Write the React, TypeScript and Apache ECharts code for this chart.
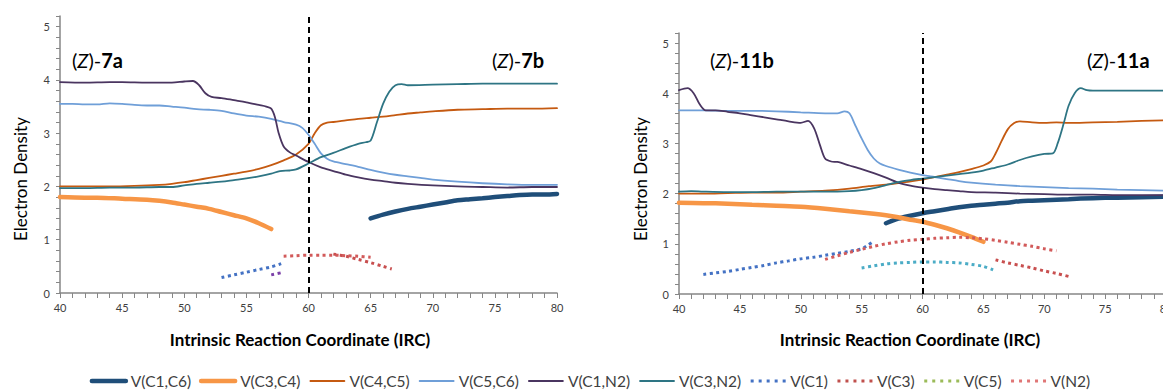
import React, { useEffect, useRef } from "react";
import * as echarts from "echarts";

const FONT = 'Lato, "Open Sans", sans-serif';

const seriesNames = ["V(C1,C6)", "V(C3,C4)", "V(C4,C5)", "V(C5,C6)", "V(C1,N2)", "V(C3,N2)", "V(C1)", "V(C3)", "V(C5)", "V(N2)"];
const xTicks = [40, 45, 50, 55, 60, 65, 70, 75, 80];
const tsX = 60;

// Left panel: (Z)-7a -> (Z)-7b
const L_C1C6 = [[65,1.40],[66,1.47],[67,1.53],[68,1.58],[69,1.62],[70,1.66],[71,1.70],[72,1.74],[73,1.76],[74,1.78],[75,1.80],[76,1.82],[77,1.84],[78,1.85],[79,1.85],[80,1.86]];
const L_C3C4 = [[40,1.80],[42,1.79],[43,1.79],[45,1.77],[47,1.75],[48,1.73],[49,1.70],[50,1.66],[51,1.62],[52,1.58],[53,1.52],[54,1.46],[55,1.40],[56,1.31],[57,1.20]];
const L_C4C5 = [[40,2.00],[42,2.00],[44,2.00],[46,2.01],[48,2.03],[49,2.05],[50,2.08],[51,2.12],[52,2.16],[53,2.20],[54,2.24],[55,2.28],[56,2.33],[57,2.40],[58,2.49],[59,2.60],[60,2.80],[60.5,3.00],[61,3.15],[61.5,3.20],[62,3.21],[63,3.24],[64,3.27],[65,3.29],[66,3.31],[67,3.34],[68,3.37],[69,3.39],[70,3.41],[72,3.44],[74,3.45],[76,3.46],[78,3.46],[80,3.47]];
const L_C5C6 = [[40,3.55],[41,3.55],[42,3.54],[43,3.54],[44,3.56],[45,3.55],[46,3.53],[47,3.52],[48,3.52],[49,3.50],[50,3.48],[51,3.45],[52,3.44],[53,3.42],[54,3.37],[55,3.33],[56,3.31],[57,3.27],[58,3.21],[59,3.16],[59.5,3.10],[60,2.97],[60.5,2.80],[61,2.62],[61.5,2.52],[62,2.47],[63,2.42],[64,2.37],[65,2.31],[66,2.26],[67,2.22],[68,2.19],[69,2.16],[70,2.13],[72,2.09],[74,2.06],[76,2.04],[78,2.03],[80,2.03]];
const L_C1N2 = [[40,3.96],[42,3.95],[44,3.96],[45,3.96],[47,3.95],[49,3.95],[50,3.97],[50.7,3.98],[51.2,3.90],[51.7,3.75],[52.2,3.68],[53,3.66],[54,3.62],[55,3.58],[56,3.53],[56.6,3.50],[57,3.46],[57.3,3.30],[57.6,3.00],[58,2.75],[58.5,2.64],[59,2.58],[60,2.46],[61,2.36],[62,2.29],[63,2.22],[64,2.17],[65,2.13],[66,2.10],[67,2.07],[68,2.05],[70,2.02],[72,2.00],[74,1.99],[76,1.98],[78,1.99],[80,1.99]];
const L_C3N2 = [[40,1.97],[42,1.97],[44,1.98],[46,1.98],[48,1.99],[49,1.99],[50,2.02],[51,2.05],[52,2.07],[53,2.09],[54,2.12],[55,2.15],[56,2.19],[57,2.24],[57.7,2.29],[58.5,2.30],[59,2.32],[60,2.43],[61,2.55],[62,2.63],[63,2.72],[64,2.80],[64.6,2.83],[65,2.86],[65.5,3.20],[66,3.55],[66.5,3.78],[67,3.90],[67.5,3.92],[68,3.90],[70,3.91],[72,3.92],[74,3.93],[76,3.93],[78,3.93],[80,3.93]];
const L_C1 = [[53,0.29],[54,0.34],[55,0.39],[56,0.44],[57,0.49],[57.8,0.55]];
const L_C5 = [[57,0.34],[58,0.39]];
const L_N2 = [[58,0.69],[59,0.70],[60,0.71],[61,0.71],[62,0.71],[63,0.70],[64,0.69],[65,0.67]];
const L_C3 = [[62,0.73],[63,0.69],[64,0.63],[65,0.57],[66,0.50],[66.7,0.45]];

// Right panel: (Z)-11b -> (Z)-11a
const R_C1C6 = [[57,1.41],[58,1.50],[59,1.56],[60,1.61],[61,1.65],[62,1.69],[63,1.73],[64,1.76],[65,1.78],[66,1.80],[67,1.82],[68,1.85],[69,1.86],[70,1.87],[72,1.89],[74,1.91],[76,1.92],[78,1.93],[80,1.94]];
const R_C3C4 = [[40,1.82],[42,1.81],[44,1.80],[46,1.78],[48,1.76],[50,1.74],[52,1.70],[54,1.65],[56,1.60],[57,1.57],[58,1.53],[59,1.48],[60,1.44],[61,1.38],[62,1.31],[63,1.23],[64,1.14],[65,1.04]];
const R_C4C5 = [[40,2.00],[42,2.00],[44,2.01],[46,2.02],[48,2.02],[50,2.04],[52,2.06],[54,2.10],[55.6,2.15],[57,2.18],[58,2.21],[60,2.28],[61,2.33],[62,2.38],[63,2.43],[64,2.49],[65,2.56],[65.6,2.64],[66,2.80],[66.5,3.05],[67,3.28],[67.5,3.40],[68,3.44],[69,3.42],[70,3.41],[71,3.42],[72,3.41],[74,3.42],[76,3.43],[78,3.45],[80,3.46]];
const R_C5C6 = [[40,3.66],[42,3.66],[44,3.65],[46,3.65],[48,3.64],[50,3.62],[52,3.60],[53,3.60],[53.6,3.64],[54,3.60],[54.5,3.35],[55,3.10],[55.5,2.87],[56,2.70],[56.5,2.60],[57,2.55],[58,2.48],[59,2.42],[60,2.37],[61,2.33],[62,2.29],[63,2.25],[64,2.22],[66,2.18],[68,2.15],[70,2.13],[72,2.11],[74,2.10],[76,2.08],[78,2.07],[80,2.06]];
const R_C1N2 = [[40,4.06],[40.7,4.10],[41.2,4.00],[41.7,3.78],[42.2,3.66],[43,3.66],[44,3.63],[45,3.60],[46,3.56],[47,3.52],[48,3.48],[49,3.44],[50,3.41],[50.6,3.45],[51.1,3.30],[51.6,2.95],[52,2.70],[52.5,2.64],[53,2.63],[54,2.56],[55,2.49],[56,2.41],[57,2.32],[58,2.22],[59,2.16],[60,2.12],[61,2.09],[62,2.07],[63,2.05],[64,2.03],[66,2.02],[68,2.00],[70,1.99],[72,1.98],[74,1.98],[76,1.97],[78,1.97],[80,1.97]];
const R_C3N2 = [[40,2.04],[41,2.05],[42,2.04],[44,2.03],[46,2.03],[48,2.04],[50,2.04],[52,2.04],[54,2.05],[55,2.07],[56,2.11],[57,2.17],[58,2.23],[59,2.27],[60,2.30],[61,2.33],[62,2.36],[63,2.39],[64,2.42],[65,2.46],[66,2.52],[67,2.58],[68,2.67],[69,2.74],[70,2.79],[70.7,2.80],[71.1,3.00],[71.6,3.40],[72,3.75],[72.5,4.00],[73,4.10],[73.5,4.06],[74,4.05],[76,4.05],[78,4.05],[80,4.05]];
const R_C1 = [[42,0.39],[43,0.42],[44,0.45],[45,0.49],[46,0.53],[47,0.57],[48,0.62],[49,0.66],[50,0.70],[51,0.73],[52,0.77],[53,0.81],[54,0.85],[55,0.90],[55.5,0.97],[56,1.05]];
const R_N2 = [[52,0.69],[53,0.76],[54,0.83],[55,0.89],[56,0.95],[57,1.00],[58,1.04],[59,1.07],[60,1.09],[61,1.11],[62,1.12],[63,1.13],[64,1.12],[65,1.10],[66,1.07],[67,1.03],[68,0.99],[69,0.95],[70,0.90],[71,0.86]];
const R_C5 = [[55,0.52],[56,0.56],[57,0.60],[58,0.62],[59,0.63],[60,0.64],[61,0.64],[62,0.63],[63,0.62],[64,0.59],[65,0.55],[65.8,0.48]];
const R_C3 = [[66,0.68],[67,0.62],[68,0.57],[69,0.52],[70,0.46],[71,0.41],[72,0.35]];

const COLORS: Record<string, string> = {
  "V(C1,C6)": "#1f4e79",
  "V(C3,C4)": "#f79646",
  "V(C4,C5)": "#c55a11",
  "V(C5,C6)": "#6f9fd8",
  "V(C1,N2)": "#4a3560",
  "V(C3,N2)": "#2e7584",
  "V(C1)": "#4472c4",
  "V(C3)": "#c0504d",
  "V(C5)": "#9bbb59",
  "V(N2)": "#e07676",
};
const WIDTHS: Record<string, number> = {
  "V(C1,C6)": 4.5, "V(C3,C4)": 4.5, "V(C4,C5)": 1.8, "V(C5,C6)": 1.8, "V(C1,N2)": 1.8, "V(C3,N2)": 1.8,
};
const DOTTED = ["V(C1)", "V(C3)", "V(C5)", "V(N2)"];

function mk(name: string, data: number[][], g: number, color?: string) {
  const dotted = DOTTED.includes(name);
  const c = color || COLORS[name];
  return {
    type: "line",
    name,
    xAxisIndex: g,
    yAxisIndex: g,
    data,
    symbol: "none",
    smooth: 0.3,
    color: c,
    lineStyle: dotted
      ? { width: 3, type: [3, 3.5], color: c }
      : { width: WIDTHS[name], color: c, cap: "round" },
    z: dotted ? 3 : 2,
  };
}

function axisX(g: number) {
  return {
    type: "value",
    gridIndex: g,
    min: 40,
    max: 80,
    interval: 5,
    axisLine: { show: true, lineStyle: { color: "#868686", width: 1.5 } },
    axisTick: { show: true, length: 5, lineStyle: { color: "#868686" } },
    minorTick: { show: true, splitNumber: 5, length: 5, lineStyle: { color: "#868686" } },
    splitLine: { show: false },
    minorSplitLine: { show: false },
    axisLabel: { color: "#404040", fontSize: 11, fontFamily: FONT, margin: 9, interval: 0,
      formatter: (v: number) => (xTicks.includes(v) ? String(v) : "") },
  };
}
function axisY(g: number) {
  return {
    type: "value",
    gridIndex: g,
    min: 0,
    max: 5.2,
    interval: 0.2,
    axisLine: { show: true, lineStyle: { color: "#868686", width: 1.5 } },
    axisTick: { show: true, length: 4, interval: 0, lineStyle: { color: "#868686" } },
    splitLine: { show: false },
    axisLabel: {
      color: "#404040", fontSize: 11, fontFamily: FONT, margin: 10, interval: 0,
      formatter: (v: number) => (Math.abs(v - Math.round(v)) < 1e-6 ? String(Math.round(v)) : ""),
    },
  };
}

function label(text: string, x: number, y: number) {
  return {
    type: "text",
    x, y,
    style: {
      text: `{a|(}{z|Z}{a|)-}{b|${text}}`,
      textVerticalAlign: "middle",
      rich: {
        a: { fontSize: 20, fontFamily: FONT, fill: "#000" },
        z: { fontSize: 20, fontFamily: FONT, fontStyle: "italic", fill: "#000" },
        b: { fontSize: 20, fontFamily: FONT, fontWeight: "bold", fill: "#000" },
      },
    },
  };
}

function legendGraphics() {
  const fs = 15.5;
  const ctx = document.createElement("canvas").getContext("2d")!;
  ctx.font = `${fs}px ${FONT}`;
  const lineLen = 38, gapText = 3, gapItem = 8, cy = 381;
  const widths = seriesNames.map((n) => ctx.measureText(n).width);
  const total = widths.reduce((s, w) => s + lineLen + gapText + w, 0) + gapItem * (seriesNames.length - 1);
  let x = 590 - total / 2;
  const out: any[] = [];
  seriesNames.forEach((n, i) => {
    const dotted = DOTTED.includes(n);
    out.push({
      type: "line",
      shape: { x1: x + (dotted ? 1.5 : 2), y1: cy, x2: x + lineLen - (dotted ? 0 : 2), y2: cy },
      style: dotted
        ? { stroke: COLORS[n], lineWidth: 3, lineDash: [3, 5] }
        : { stroke: COLORS[n], lineWidth: WIDTHS[n], lineCap: "round" },
      silent: true,
    });
    out.push({
      type: "text",
      x: x + lineLen + gapText,
      y: cy,
      style: { text: n, fontSize: fs, fontFamily: FONT, fill: "#404040", textVerticalAlign: "middle" },
      silent: true,
    });
    x += lineLen + gapText + widths[i] + gapItem;
  });
  return out;
}

export default function App() {
  const ref = useRef<HTMLDivElement>(null);
  useEffect(() => {
    const chart = echarts.init(ref.current!, null, { renderer: "svg" });
    const markLine = {
      silent: true,
      symbol: "none",
      label: { show: false },
      lineStyle: { color: "#000", type: [6, 4], width: 2 },
      data: [{ xAxis: tsX }],
    };
    const left = [
      mk("V(C1,C6)", L_C1C6, 0), mk("V(C3,C4)", L_C3C4, 0), mk("V(C4,C5)", L_C4C5, 0),
      mk("V(C5,C6)", L_C5C6, 0), mk("V(C1,N2)", L_C1N2, 0), { ...mk("V(C3,N2)", L_C3N2, 0), markLine },
      mk("V(C1)", L_C1, 0), mk("V(C3)", L_C3, 0, "#c84f4f"), mk("V(C5)", L_C5, 0, "#7b3fa8"), mk("V(N2)", L_N2, 0, "#d25a5a"),
    ];
    const right = [
      mk("V(C1,C6)", R_C1C6, 1), mk("V(C3,C4)", R_C3C4, 1), mk("V(C4,C5)", R_C4C5, 1),
      mk("V(C5,C6)", R_C5C6, 1), mk("V(C1,N2)", R_C1N2, 1), { ...mk("V(C3,N2)", R_C3N2, 1), markLine },
      mk("V(C1)", R_C1, 1), mk("V(C3)", R_C3, 1, "#c84f4f"), mk("V(C5)", R_C5, 1, "#4bacc6"), mk("V(N2)", R_N2, 1, "#d25a5a"),
    ];
    chart.setOption({
      animation: false,
      backgroundColor: "#fff",
      grid: [
        { left: 60, top: 16, width: 497, height: 277, outerBoundsMode: "none", containLabel: false },
        { left: 679, top: 33, width: 487, height: 261, outerBoundsMode: "none", containLabel: false },
      ],
      xAxis: [axisX(0), axisX(1)],
      yAxis: [axisY(0), axisY(1)],
      graphic: [
        label("7a", 72, 60),
        label("7b", 492, 60),
        label("11b", 710, 60),
        label("11a", 1087, 60),
        { type: "text", x: 300, y: 339, style: { text: "Intrinsic Reaction Coordinate (IRC)", fontSize: 17, fontWeight: "bold", fontFamily: FONT, fill: "#000", textAlign: "center", textVerticalAlign: "middle" } },
        { type: "text", x: 910, y: 339, style: { text: "Intrinsic Reaction Coordinate (IRC)", fontSize: 17, fontWeight: "bold", fontFamily: FONT, fill: "#000", textAlign: "center", textVerticalAlign: "middle" } },
        { type: "text", x: 20, y: 179, rotation: Math.PI / 2, style: { text: "Electron Density", fontSize: 17, fontFamily: FONT, fill: "#000", textAlign: "center", textVerticalAlign: "middle" } },
        { type: "text", x: 640, y: 179, rotation: Math.PI / 2, style: { text: "Electron Density", fontSize: 17, fontFamily: FONT, fill: "#000", textAlign: "center", textVerticalAlign: "middle" } },
        ...legendGraphics(),
      ],
      series: [...left, ...right],
    });
    return () => chart.dispose();
  }, []);
  return (
    <div
      ref={ref}
      style={{ position: "fixed", left: 0, top: 0, width: 1163, height: 390, background: "#fff" }}
    />
  );
}
